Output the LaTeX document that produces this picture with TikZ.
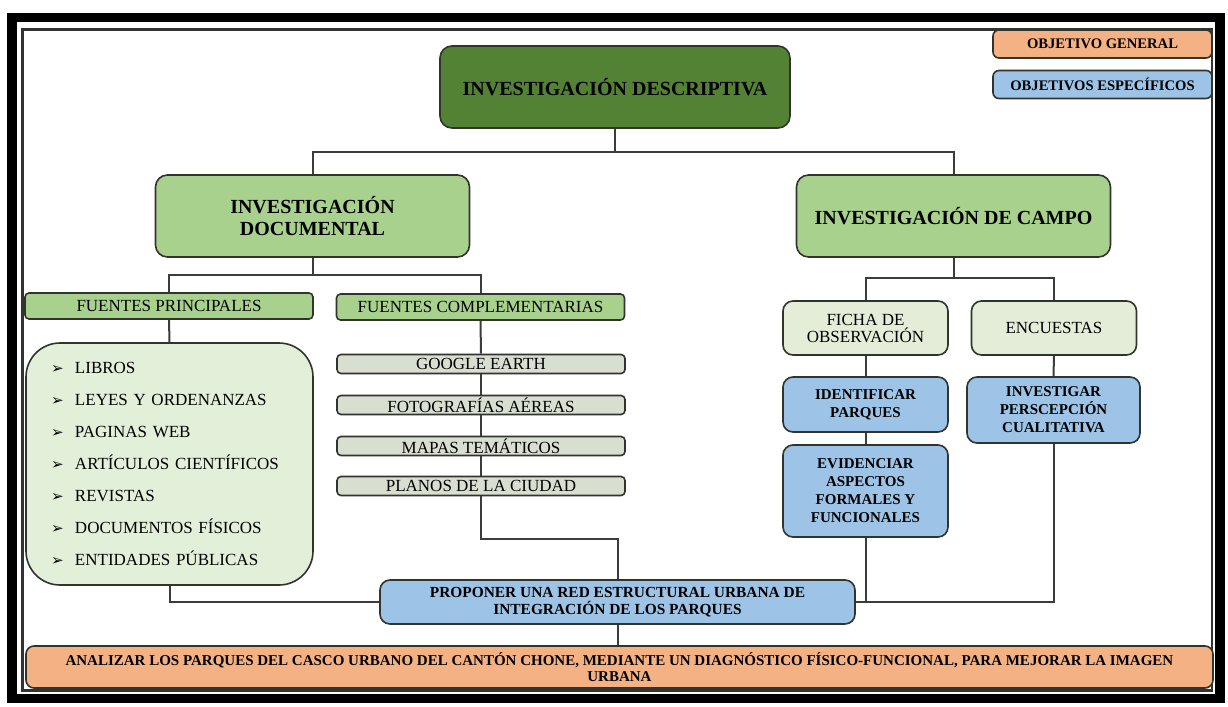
\documentclass[tikz,border=0pt]{standalone}
\usepackage{fontspec}
\setmainfont{Liberation Serif}
\newfontfamily\symfont{DejaVu Sans}
\usetikzlibrary{positioning,calc}

\definecolor{verdeosc}{RGB}{84,130,53}
\definecolor{verdecl}{RGB}{169,209,142}
\definecolor{verdepal}{RGB}{226,239,217}
\definecolor{grisverde}{RGB}{216,222,208}
\definecolor{crema}{RGB}{228,237,215}
\definecolor{azul}{RGB}{157,195,230}
\definecolor{naranja}{RGB}{244,177,131}
\definecolor{borde}{RGB}{48,52,44}
\definecolor{linea}{RGB}{60,60,60}

\newcommand{\flecha}{\makebox[12pt][l]{\symfont\fontsize{7.5}{7.5}\selectfont ➢}}

\begin{document}
\begin{tikzpicture}[
  x=0.5pt,y=-0.5pt,
  every node/.style={font=\rmfamily,text=black},
  mainbox/.style={rounded corners=6pt,draw=borde,line width=0.8pt,fill=verdeosc,
                  align=center,inner sep=2pt,
                  font=\rmfamily\bfseries\fontsize{10}{11}\selectfont},
  subbox/.style ={rounded corners=6pt,draw=borde,line width=0.8pt,fill=verdecl,
                  align=center,inner sep=2pt,
                  minimum width=157pt,minimum height=41pt,
                  font=\rmfamily\bfseries\fontsize{10}{11}\selectfont},
  srcbox/.style ={rounded corners=2pt,draw=borde,line width=0.8pt,fill=verdecl,
                  inner xsep=1pt,inner ysep=0pt,
                  minimum width=144pt,minimum height=13pt,
                  font=\rmfamily\fontsize{8.5}{9}\selectfont},
  listbox/.style={rounded corners=17pt,draw=borde,line width=0.8pt,fill=verdepal,
                  align=left,inner xsep=12.5pt,inner ysep=0pt,
                  text width=118.5pt,minimum height=121pt,
                  font=\rmfamily\fontsize{8.5}{16}\selectfont},
  itembox/.style={rounded corners=2pt,draw=borde,line width=0.8pt,fill=grisverde,
                  inner xsep=1pt,inner ysep=0pt,
                  minimum width=144pt,minimum height=9.5pt,
                  font=\rmfamily\fontsize{8.5}{9}\selectfont},
  toolbox/.style={rounded corners=5pt,draw=borde,line width=0.8pt,fill=crema,
                  align=center,inner sep=1pt,
                  minimum width=82.5pt,minimum height=27pt,
                  font=\rmfamily\fontsize{8.5}{8.5}\selectfont},
  spec/.style   ={rounded corners=5pt,draw=borde,line width=0.8pt,fill=azul,
                  align=center,inner sep=1pt,minimum width=82.5pt,
                  font=\rmfamily\bfseries\fontsize{7.5}{9}\selectfont},
  general/.style={rounded corners=4pt,draw=borde,line width=0.8pt,fill=naranja,
                  align=center,inner sep=1pt,
                  font=\rmfamily\bfseries\fontsize{7.5}{8}\selectfont},
  legend/.style ={rounded corners=3pt,draw=borde,line width=0.8pt,
                  align=center,inner sep=1pt,
                  minimum width=109.5pt,minimum height=14pt,
                  font=\rmfamily\bfseries\fontsize{7.3}{8}\selectfont},
  ln/.style     ={line width=1pt,draw=linea}]

  \useasboundingbox[fill=white] (0,0) rectangle (1228,707);

  % ===== FRAME =====
  \draw[line width=4.8pt,black] (12,17.5) rectangle (1220,698.5);
  \draw[line width=1.2pt,black!80] (22.5,29.5) rectangle (1212,690.5);

  % ===== LEGEND =====
  \node[legend,fill=naranja] (leg1) at (1102.5,44)   {OBJETIVO GENERAL};
  \node[legend,fill=azul]    (leg2) at (1102.5,84.5) {OBJETIVOS ESPECÍFICOS};

  % ===== TOP LEVEL =====
  \node[mainbox,minimum width=175pt,minimum height=41pt] (desc) at (615,87)
    {INVESTIGACIÓN DESCRIPTIVA};
  \node[subbox] (doc)   at (312.5,216) {INVESTIGACIÓN\\DOCUMENTAL};
  \node[subbox] (campo) at (953.5,216) {INVESTIGACIÓN DE CAMPO};

  % ===== DOCUMENTAL BRANCH =====
  \node[srcbox] (fp) at (169,306)   {FUENTES PRINCIPALES};
  \node[srcbox] (fc) at (480.5,307) {FUENTES COMPLEMENTARIAS};
  \node[listbox] (lst) at (169.5,464)
    {\flecha LIBROS\\
     \flecha LEYES Y ORDENANZAS\\
     \flecha PAGINAS WEB\\
     \flecha ARTÍCULOS CIENTÍFICOS\\
     \flecha REVISTAS\\
     \flecha DOCUMENTOS FÍSICOS\\
     \flecha ENTIDADES PÚBLICAS};
  \node[itembox] (ge) at (481,364) {GOOGLE EARTH};
  \node[itembox] (fa) at (481,405) {FOTOGRAFÍAS AÉREAS};
  \node[itembox] (mt) at (481,446) {MAPAS TEMÁTICOS};
  \node[itembox] (pc) at (481,486) {PLANOS DE LA CIUDAD};

  % ===== CAMPO BRANCH =====
  \node[toolbox] (ficha) at (865.5,328) {FICHA DE\\OBSERVACIÓN};
  \node[toolbox] (enc)   at (1054,328)  {ENCUESTAS};
  \node[spec,minimum height=27.5pt] (ident) at (865.5,404.5) {IDENTIFICAR\\PARQUES};
  \node[spec,minimum height=46pt]   (evid)  at (865.5,491)
    {EVIDENCIAR\\ASPECTOS\\FORMALES Y\\FUNCIONALES};
  \node[spec,minimum width=86.5pt,minimum height=33pt] (inv) at (1053.5,410)
    {INVESTIGAR\\PERSCEPCIÓN\\CUALITATIVA};

  % ===== BOTTOM =====
  \node[spec,minimum width=237.5pt,minimum height=22pt,
        font=\rmfamily\bfseries\fontsize{7.7}{8.5}\selectfont] (prop) at (617.5,602)
    {PROPONER UNA RED ESTRUCTURAL URBANA DE\\INTEGRACIÓN DE LOS PARQUES};
  \node[general,minimum width=593.5pt,minimum height=21pt] (gen) at (619.5,667)
    {ANALIZAR LOS PARQUES DEL CASCO URBANO DEL CANTÓN CHONE, MEDIANTE UN DIAGNÓSTICO FÍSICO-FUNCIONAL, PARA MEJORAR LA IMAGEN\\URBANA};

  % ===== CONNECTORS =====
  \coordinate (jtop)   at (615,152);
  \coordinate (jdoc)   at (312.5,275);
  \coordinate (jcampo) at (953.5,278);
  \draw[ln] (desc.south) -- (jtop);
  \draw[ln] (doc.north) |- (jtop) -| (campo.north);
  \draw[ln] (doc.south) -- (jdoc);
  \draw[ln] (fp.north) |- (jdoc) -| (fc.north);
  \draw[ln] (fp.south) -- (lst.north);
  \draw[ln] (lst.south) |- (prop.west);
  \draw[ln] (fc.south) -- (ge.north);
  \draw[ln] (ge.south) -- (fa.north);
  \draw[ln] (fa.south) -- (mt.north);
  \draw[ln] (mt.south) -- (pc.north);
  \draw[ln] (pc.south) -- ++(0,43) -| (prop.north);
  \draw[ln] (campo.south) -- (jcampo);
  \draw[ln] (ficha.north) |- (jcampo) -| (enc.north);
  \draw[ln] (ficha.south) -- (ident.north);
  \draw[ln] (ident.south) -- (evid.north);
  \draw[ln] (enc.south) -- (inv.north);
  \draw[ln] (evid.south) |- (prop.east);
  \draw[ln] (inv.south) |- (prop.east);
  \draw[ln] (prop.south) -- (prop.south |- gen.north);

\end{tikzpicture}
\end{document}
